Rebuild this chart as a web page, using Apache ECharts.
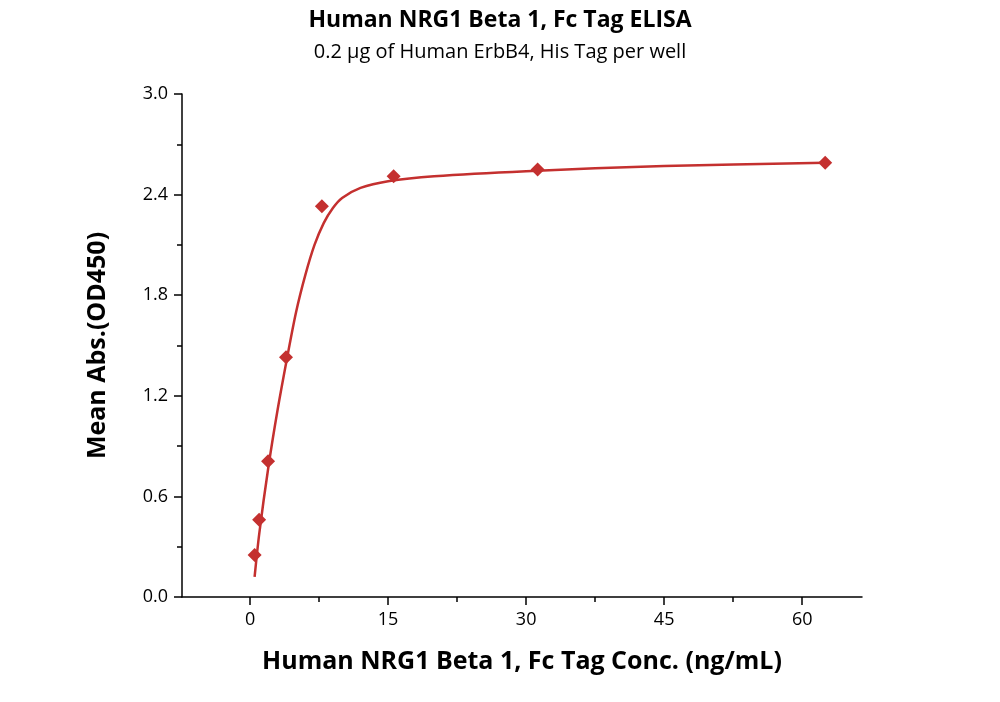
<!DOCTYPE html>
<html style="height: 100%">
<head>
	<meta charset="utf-8">
</head>
<body style="height: 100%; margin: 0; background: #fff">
<div id="container" style="width: 1000px; height: 702px"></div>
<script type="text/javascript" src="https://cdn.jsdelivr.net/npm/echarts@6/dist/echarts.min.js"></script>
<script type="text/javascript">
    // measured points (ng/mL, OD450)
    var concs = [0.49, 0.98, 1.95, 3.9, 7.8, 15.6, 31.25, 62.5];
    var absValues = [0.25, 0.46, 0.81, 1.43, 2.33, 2.51, 2.55, 2.59];
    // fitted curve
    var fitX = [0.49, 1, 2, 3, 4, 5, 6, 7, 8, 9, 10, 12, 15, 20, 30, 45, 62.5];
    var fitY = [0.12, 0.38, 0.78, 1.12, 1.42, 1.7, 1.92, 2.1, 2.23, 2.32, 2.38, 2.44, 2.48, 2.51, 2.54, 2.57, 2.59];
    var xMajor = [0, 15, 30, 45, 60];
    var xMinor = [7.5, 22.5, 37.5, 52.5];

    var red = '#c4302f';
    var font = '"Open Sans", sans-serif';
    var myChart = echarts.init(document.getElementById('container'));

    var option = {
        backgroundColor: '#fff',
        title: {
            text: 'Human NRG1 Beta 1, Fc Tag ELISA',
            subtext: '0.2 \u03bcg of Human ErbB4, His Tag per well',
            left: 'center',
            top: 4,
            itemGap: 10,
            textStyle: {fontFamily: font, fontSize: 23, fontWeight: 'bold', color: '#000'},
            subtextStyle: {fontFamily: font, fontSize: 20, color: '#000'}
        },
        grid: {left: 182, right: 138, top: 94, bottom: 105},
        xAxis: [{
            type: 'value',
            min: -7.4,
            max: 66.5,
            name: 'Human NRG1 Beta 1, Fc Tag Conc. (ng/mL)',
            nameLocation: 'middle',
            nameGap: 52,
            nameTextStyle: {fontFamily: font, fontSize: 25, fontWeight: 'bold', color: '#000'},
            axisLine: {onZero: false, lineStyle: {color: '#000', width: 1.5}},
            axisTick: {customValues: xMajor, length: 8, lineStyle: {color: '#000', width: 1.5}},
            axisLabel: {customValues: xMajor, fontFamily: font, fontSize: 18, color: '#000', margin: 14},
            splitLine: {show: false}
        }, {
            type: 'value',
            min: -7.4,
            max: 66.5,
            position: 'bottom',
            axisLine: {show: false, onZero: false},
            axisTick: {customValues: xMinor, length: 5, lineStyle: {color: '#000', width: 1.5}},
            axisLabel: {show: false},
            splitLine: {show: false}
        }],
        yAxis: {
            type: 'value',
            min: 0,
            max: 3,
            interval: 0.6,
            name: 'Mean Abs.(OD450)',
            nameLocation: 'middle',
            nameGap: 72,
            nameTextStyle: {fontFamily: font, fontSize: 25, fontWeight: 'bold', color: '#000'},
            axisLine: {show: true, onZero: false, lineStyle: {color: '#000', width: 1.5}},
            axisTick: {show: true, length: 8, lineStyle: {color: '#000', width: 1.5}},
            minorTick: {show: true, splitNumber: 2, length: 5, lineStyle: {color: '#000', width: 1.5}},
            axisLabel: {fontFamily: font, fontSize: 18, color: '#000', margin: 14,
                formatter: function (v) { return v.toFixed(1); }},
            splitLine: {show: false}
        },
        series: [{
            type: 'line',
            smooth: 0.3,
            symbol: 'none',
            lineStyle: {color: red, width: 2.5},
            data: fitX.map(function (x, i) { return [x, fitY[i]]; }),
            z: 2
        }, {
            type: 'scatter',
            symbol: 'diamond',
            symbolSize: 14,
            itemStyle: {color: red, opacity: 1},
            data: concs.map(function (x, i) { return [x, absValues[i]]; }),
            z: 3
        }]
    };

    myChart.setOption(option, true);
</script>
</body>
</html>
